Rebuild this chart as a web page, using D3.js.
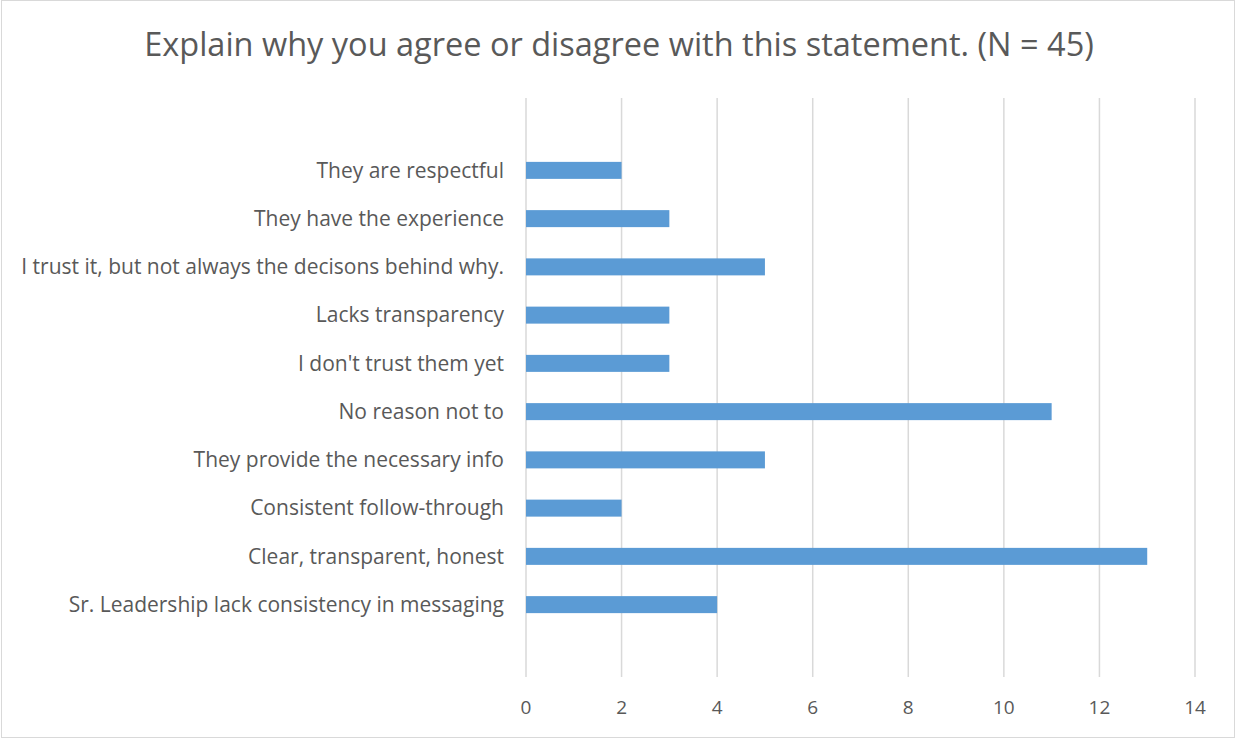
<!DOCTYPE html>
<html>
<head>
<meta charset="utf-8">
<script src="https://cdn.jsdelivr.net/npm/d3@7"></script>
<style>
  body { margin: 0; background: #fff; }
  text { font-family: "Open Sans", sans-serif; fill: #595959; }
</style>
</head>
<body>
<div id="main"></div>
<script>
var WIDTH = 1236
var HEIGHT = 739

var title = "Explain why you agree or disagree with this statement. (N = 45)"

// top to bottom as shown
var categories = [
    "They are respectful",
    "They have the experience",
    "I trust it, but not always the decisons behind why.",
    "Lacks transparency",
    "I don't trust them yet",
    "No reason not to",
    "They provide the necessary info",
    "Consistent follow-through",
    "Clear, transparent, honest",
    "Sr. Leadership lack consistency in messaging"
]
var counts = [2, 3, 5, 3, 3, 11, 5, 2, 13, 4]
var xTicks = [0, 2, 4, 6, 8, 10, 12, 14]

var plotLeft = 526, plotRight = 1195
var plotTop = 98, plotBottom = 677

const svg = d3.select('#main').append('svg')
    .attr('width', WIDTH)
    .attr('height', HEIGHT)

// chart frame
svg.append('rect')
    .attr('x', 1.5).attr('y', 0.5)
    .attr('width', WIDTH - 3).attr('height', HEIGHT - 2)
    .attr('fill', '#fff')
    .attr('stroke', '#d9d9d9')

var x = d3.scaleLinear().domain([0, 14]).range([plotLeft, plotRight])

// excel leaves one empty slot above and below
var step = (plotBottom - plotTop) / (categories.length + 2)
var y = d3.scaleBand()
    .domain(categories)
    .range([plotTop + step, plotBottom - step])

// gridlines
svg.append('g')
    .selectAll('line')
    .data(xTicks)
    .enter()
    .append('line')
    .attr('x1', d => x(d)).attr('x2', d => x(d))
    .attr('y1', plotTop).attr('y2', plotBottom)
    .attr('stroke', '#d9d9d9')
    .attr('stroke-width', 1.5)

// bars
svg.append('g')
    .selectAll('rect')
    .data(categories)
    .enter()
    .append('rect')
    .attr('x', x(0))
    .attr('y', d => y(d) + y.bandwidth() / 2 - 8.5)
    .attr('width', (d, i) => x(counts[i]) - x(0))
    .attr('height', 17)
    .attr('fill', '#5b9bd5')

// category labels
svg.append('g')
    .selectAll('text')
    .data(categories)
    .enter()
    .append('text')
    .attr('x', 504)
    .attr('y', d => y(d) + y.bandwidth() / 2)
    .attr('dy', '0.35em')
    .attr('text-anchor', 'end')
    .style('font-size', '21px')
    .text(d => d)

// x tick labels
svg.append('g')
    .selectAll('text')
    .data(xTicks)
    .enter()
    .append('text')
    .attr('x', d => x(d))
    .attr('y', 707)
    .attr('dy', '0.35em')
    .attr('text-anchor', 'middle')
    .style('font-size', '19px')
    .text(d => d)

svg.append('text')
    .attr('x', 619)
    .attr('y', 45)
    .attr('dy', '0.35em')
    .attr('text-anchor', 'middle')
    .style('font-size', '32.5px')
    .text(title)
</script>
</body>
</html>
